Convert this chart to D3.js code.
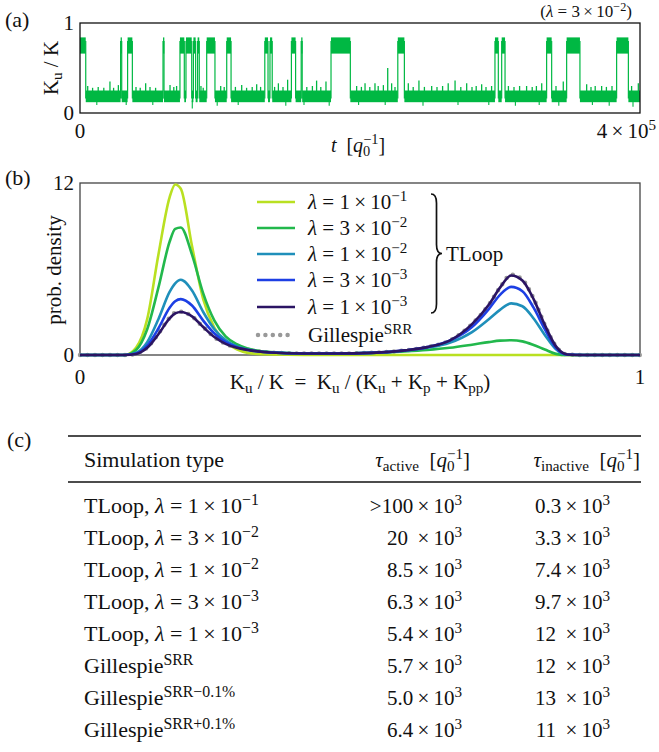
<!DOCTYPE html>
<html>
<head>
<meta charset="utf-8">
<script src="https://cdn.jsdelivr.net/npm/d3@7"></script>
<style>
  body { margin: 0; background: white; }
  svg text { font-family: "Liberation Serif", "DejaVu Serif", serif; fill: #111; white-space: pre; }
</style>
</head>
<body>
<div id="container"></div>
<script>
// ---------- panel (a): time trace, t in units of 10^3 q0^-1 ----------
const activeStart = [0, 29.0, 34.0, 59.3, 71.4, 75.7, 81.0, 84.0, 90.5, 104.8, 132.0, 135.7, 151.0, 158.0, 179.3, 227.0, 296.4, 301.2, 333.3, 347.6, 383.3];
const activeEnd   = [4.1, 29.8, 37.4, 60.0, 74.5, 79.8, 82.6, 85.2, 96.4, 107.9, 134.3, 137.3, 154.0, 158.7, 193.1, 231.7, 298.8, 303.6, 336.9, 357.1, 391.7];
const lowBand = [0.12, 0.25];
const highBand = [0.66, 0.84];
// spikes out of the inactive band (time, height)
const spikeT = [5.5, 9, 13, 17, 21.4, 24, 27.4, 40, 43, 46.9, 50, 54, 64.3, 67, 69, 86.4, 88, 100.5, 103, 111, 115.5, 119, 123, 126.2, 129,
  139, 141.7, 145, 148.3, 162, 166, 169, 172, 175.7, 197.6, 201, 203.6, 207, 210.7, 213, 216.7, 219.8, 222.6, 225, 234.5, 238, 242.1, 246, 251.2,
  255, 259, 263, 267.9, 272, 276.2, 280, 283, 286.9, 290, 294, 306, 310, 314, 319, 323, 326, 329.8, 340, 345.2, 361.9, 365, 368, 372.6, 376, 380, 394, 398.8];
const spikeV = [0.30, 0.28, 0.29, 0.28, 0.35, 0.28, 0.31, 0.29, 0.28, 0.33, 0.29, 0.28, 0.31, 0.29, 0.30, 0.30, 0.28, 0.30, 0.29, 0.29, 0.31, 0.28, 0.29, 0.32, 0.29,
  0.29, 0.33, 0.29, 0.37, 0.29, 0.30, 0.36, 0.29, 0.35, 0.30, 0.29, 0.33, 0.29, 0.33, 0.30, 0.31, 0.50, 0.33, 0.29, 0.33, 0.29, 0.36, 0.29, 0.30,
  0.29, 0.30, 0.33, 0.36, 0.29, 0.33, 0.29, 0.30, 0.32, 0.29, 0.30, 0.30, 0.29, 0.30, 0.30, 0.29, 0.30, 0.33, 0.30, 0.35, 0.32, 0.29, 0.30, 0.30, 0.29, 0.30, 0.30, 0.33];
// dips below the inactive band (time, depth)
const dipT = [12, 33, 52, 80.2, 98, 113, 147, 160, 178, 199, 218, 245, 270, 292, 311, 328, 342, 366, 378, 395];
const dipV = [0.09, 0.09, 0.09, 0.05, 0.08, 0.09, 0.08, 0.09, 0.08, 0.09, 0.09, 0.08, 0.09, 0.09, 0.08, 0.09, 0.08, 0.09, 0.08, 0.07];

// ---------- panel (b): probability densities ----------
const ku = [0, 0.08, 0.10, 0.12, 0.14, 0.16, 0.17, 0.18, 0.20, 0.22, 0.24, 0.26, 0.28, 0.30, 0.34, 0.40, 0.46, 0.52, 0.58, 0.62, 0.66, 0.70, 0.73, 0.75, 0.77, 0.79, 0.81, 0.83, 0.85, 0.87, 0.90, 1.0];
const dens1e1 = [0, 0, 0.5, 2.5, 7.0, 11.0, 11.9, 11.6, 7.6, 3.9, 1.9, 0.9, 0.4, 0.15, 0.03, 0, 0, 0, 0, 0, 0, 0, 0, 0, 0, 0, 0, 0, 0, 0, 0, 0];
const dens3e2 = [0, 0, 0.35, 1.8, 4.7, 7.9, 8.8, 8.9, 7.0, 4.3, 2.4, 1.3, 0.75, 0.45, 0.2, 0.1, 0.1, 0.15, 0.25, 0.35, 0.5, 0.72, 0.9, 1.0, 1.03, 0.95, 0.7, 0.38, 0.08, 0, 0, 0];
const dens1e2 = [0, 0, 0.15, 0.9, 2.5, 4.4, 5.0, 5.25, 4.5, 3.0, 1.8, 1.05, 0.6, 0.38, 0.18, 0.1, 0.1, 0.15, 0.3, 0.5, 0.85, 1.6, 2.5, 3.15, 3.6, 3.4, 2.55, 1.4, 0.4, 0.02, 0, 0];
const dens3e3 = [0, 0, 0.1, 0.65, 1.85, 3.3, 3.75, 3.9, 3.45, 2.4, 1.5, 0.9, 0.55, 0.35, 0.17, 0.1, 0.1, 0.15, 0.32, 0.55, 1.0, 1.95, 3.2, 4.2, 4.75, 4.45, 3.3, 1.8, 0.5, 0.03, 0, 0];
const dens1e3 = [0, 0, 0.07, 0.5, 1.45, 2.55, 2.9, 3.0, 2.7, 1.95, 1.25, 0.78, 0.5, 0.35, 0.17, 0.1, 0.1, 0.15, 0.32, 0.55, 1.0, 2.15, 3.5, 4.7, 5.55, 5.2, 3.9, 2.1, 0.6, 0.04, 0, 0];
const densGillespie = [0, 0, 0.08, 0.52, 1.5, 2.6, 2.95, 3.02, 2.7, 1.95, 1.25, 0.78, 0.5, 0.35, 0.17, 0.1, 0.1, 0.15, 0.32, 0.55, 1.0, 2.15, 3.5, 4.7, 5.6, 5.25, 3.95, 2.1, 0.6, 0.04, 0, 0];
const seriesLabels = ['$λ$ = 1 × 10^{−1}', '$λ$ = 3 × 10^{−2}', '$λ$ = 1 × 10^{−2}', '$λ$ = 3 × 10^{−3}', '$λ$ = 1 × 10^{−3}'];
const seriesColors = ['#b9e021', '#22b84c', '#1f8fba', '#1d3fe4', '#2b1463'];

// ---------- panel (c): table ----------
const simLabels = ['TLoop, $λ$ = 1 × 10^{−1}', 'TLoop, $λ$ = 3 × 10^{−2}', 'TLoop, $λ$ = 1 × 10^{−2}', 'TLoop, $λ$ = 3 × 10^{−3}', 'TLoop, $λ$ = 1 × 10^{−3}', 'Gillespie^{SRR}', 'Gillespie^{SRR−0.1%}', 'Gillespie^{SRR+0.1%}'];
const tauActive = ['>100 × 10^{3}', '20  × 10^{3}', '8.5 × 10^{3}', '6.3 × 10^{3}', '5.4 × 10^{3}', '5.7 × 10^{3}', '5.0 × 10^{3}', '6.4 × 10^{3}'];
const tauInactive = ['0.3 × 10^{3}', '3.3 × 10^{3}', '7.4 × 10^{3}', '9.7 × 10^{3}', '12  × 10^{3}', '12  × 10^{3}', '13  × 10^{3}', '11  × 10^{3}'];

const traceColor = '#00b843';

const svg = d3.select('#container').append('svg')
  .attr('width', 659).attr('height', 752);

// little markup: ^{..} superscript, _{..} subscript, $..$ italic; ' × ' gets thin spaces
function richText(g, str, attrs, fs) {
  const t = g.append('text').attr('font-size', fs);
  Object.entries(attrs).forEach(([k, v]) => t.attr(k, v));
  const tokens = str.replace(/ × /g, '\u2009×\u2009').split(/(\^\{[^}]*\}|_\{[^}]*\}|\$[^$]*\$)/).filter(s => s.length);
  let offset = 0, lastSub = null;
  tokens.forEach(tok => {
    const ts = t.append('tspan');
    let target = 0, txt = tok;
    if (tok.startsWith('^{')) {
      target = -0.38 * fs; txt = tok.slice(2, -1);
      ts.attr('font-size', 0.72 * fs);
      if (lastSub) ts.attr('dx', -lastSub.length * 0.36 * fs);
      lastSub = null;
    } else if (tok.startsWith('_{')) {
      target = 0.2 * fs; txt = tok.slice(2, -1);
      ts.attr('font-size', 0.72 * fs);
      lastSub = txt;
    } else if (tok.startsWith('$')) {
      txt = tok.slice(1, -1); ts.attr('font-style', 'italic');
      lastSub = null;
    } else {
      lastSub = null;
    }
    if (target !== offset) ts.attr('dy', target - offset);
    offset = target;
    ts.text(txt);
  });
  return t;
}

// ================= panel (a) =================
const xA = d3.scaleLinear().domain([0, 400]).range([80, 640]);
const yA = d3.scaleLinear().domain([0, 1]).range([113, 23]);
const gA = svg.append('g');

const active = activeStart.map((s, i) => ({ s, e: activeEnd[i] }));
const inactive = [];
let prev = 0;
active.forEach(a => { if (a.s > prev) inactive.push({ s: prev, e: a.s }); prev = a.e; });
if (prev < 400) inactive.push({ s: prev, e: 400 });
const isActive = t => active.some(a => t >= a.s && t <= a.e);

gA.selectAll('rect.low').data(inactive).join('rect')
  .attr('x', d => xA(d.s)).attr('width', d => Math.max(1, xA(d.e) - xA(d.s)))
  .attr('y', yA(lowBand[1])).attr('height', yA(lowBand[0]) - yA(lowBand[1]))
  .attr('fill', traceColor);
gA.selectAll('rect.high').data(active).join('rect')
  .attr('x', d => xA(d.s)).attr('width', d => Math.max(1.3, xA(d.e) - xA(d.s)))
  .attr('y', yA(highBand[1])).attr('height', yA(highBand[0]) - yA(highBand[1]))
  .attr('fill', traceColor);
// switching edges
const edges = activeStart.concat(activeEnd).filter(t => t > 0 && t < 400);
gA.selectAll('line.edge').data(edges).join('line')
  .attr('x1', d => xA(d)).attr('x2', d => xA(d))
  .attr('y1', yA(lowBand[0] + 0.04)).attr('y2', yA(highBand[1] - 0.04))
  .attr('stroke', traceColor).attr('stroke-width', 1.2);
const spikes = spikeT.map((t, i) => ({ t, v: spikeV[i] })).filter(d => !isActive(d.t));
gA.selectAll('line.spike').data(spikes).join('line')
  .attr('x1', d => xA(d.t)).attr('x2', d => xA(d.t))
  .attr('y1', yA(lowBand[1] - 0.02)).attr('y2', d => yA(d.v))
  .attr('stroke', traceColor).attr('stroke-width', 1.3);
const dips = dipT.map((t, i) => ({ t, v: dipV[i] })).filter(d => !isActive(d.t));
gA.selectAll('line.dip').data(dips).join('line')
  .attr('x1', d => xA(d.t)).attr('x2', d => xA(d.t))
  .attr('y1', yA(lowBand[0] + 0.02)).attr('y2', d => yA(d.v))
  .attr('stroke', traceColor).attr('stroke-width', 1.1);

gA.append('rect').attr('x', 80).attr('y', 23).attr('width', 560).attr('height', 90)
  .attr('fill', 'none').attr('stroke', '#111').attr('stroke-width', 1.3);

gA.append('text').attr('x', 74).attr('y', yA(1)).attr('dy', '0.33em').attr('text-anchor', 'end').attr('font-size', 21).text('1');
gA.append('text').attr('x', 74).attr('y', yA(0)).attr('dy', '0.33em').attr('text-anchor', 'end').attr('font-size', 21).text('0');
gA.append('text').attr('x', xA(0)).attr('y', 138).attr('text-anchor', 'middle').attr('font-size', 21).text('0');
richText(gA, '4 × 10^{5}', { x: 656, y: 138, 'text-anchor': 'end' }, 21);
richText(gA, '$t$  [$q$_{0}^{−1}]', { x: 358, y: 152, 'text-anchor': 'middle' }, 20);
richText(gA, '($λ$ = 3 × 10^{−2})', { x: 632, y: 17, 'text-anchor': 'end' }, 17);
richText(gA, 'K_{u} / K', { transform: 'translate(58,68) rotate(-90)', 'text-anchor': 'middle' }, 21);
gA.append('text').attr('x', 5).attr('y', 27).attr('font-size', 22).text('(a)');

// ================= panel (b) =================
const xB = d3.scaleLinear().domain([0, 1]).range([80, 640]);
const yB = d3.scaleLinear().domain([0, 12]).range([355, 183]);
const gB = svg.append('g');

const line = d3.line().x((d, i) => xB(ku[i])).y(d => yB(d)).curve(d3.curveMonotoneX);

gB.append('rect').attr('x', 80).attr('y', 183).attr('width', 560).attr('height', 172)
  .attr('fill', 'none').attr('stroke', '#444').attr('stroke-width', 1.3);

gB.append('path').attr('d', line(densGillespie)).attr('fill', 'none')
  .attr('stroke', '#999').attr('stroke-width', 4.5).attr('stroke-linecap', 'round')
  .attr('stroke-dasharray', '0 7.5');

const allSeries = [dens1e1, dens3e2, dens1e2, dens3e3, dens1e3];
gB.selectAll('path.series').data(allSeries).join('path')
  .attr('class', 'series')
  .attr('d', d => line(d)).attr('fill', 'none')
  .attr('stroke', (d, i) => seriesColors[i]).attr('stroke-width', 2.6);

// legend
const legY = [202, 228, 254, 280, 307];
seriesLabels.forEach((lab, i) => {
  gB.append('line').attr('x1', 257).attr('x2', 295).attr('y1', legY[i]).attr('y2', legY[i])
    .attr('stroke', seriesColors[i]).attr('stroke-width', 2.6);
  richText(gB, lab, { x: 308, y: legY[i] + 7 }, 21);
});
gB.append('line').attr('x1', 258).attr('x2', 295).attr('y1', 335).attr('y2', 335)
  .attr('stroke', '#999').attr('stroke-width', 4.5).attr('stroke-linecap', 'round')
  .attr('stroke-dasharray', '0 7.4');
richText(gB, 'Gillespie^{SRR}', { x: 308, y: 342 }, 21);

// brace
function bracePath(x, y0, y1, w) {
  const ym = (y0 + y1) / 2, r = 9, xm = x + w / 2;
  return `M${x},${y0} Q${xm},${y0} ${xm},${y0 + r} L${xm},${ym - r} Q${xm},${ym} ${x + w},${ym}`
    + ` Q${xm},${ym} ${xm},${ym + r} L${xm},${y1 - r} Q${xm},${y1} ${x},${y1}`;
}
gB.append('path').attr('d', bracePath(431, 194, 313, 11)).attr('fill', 'none')
  .attr('stroke', '#111').attr('stroke-width', 1.7);
gB.append('text').attr('x', 446).attr('y', 261).attr('font-size', 21).text('TLoop');

gB.append('text').attr('x', 74).attr('y', yB(12)).attr('dy', '0.33em').attr('text-anchor', 'end').attr('font-size', 21).text('12');
gB.append('text').attr('x', 74).attr('y', yB(0)).attr('dy', '0.33em').attr('text-anchor', 'end').attr('font-size', 21).text('0');
gB.append('text').attr('x', xB(0)).attr('y', 384).attr('text-anchor', 'middle').attr('font-size', 21).text('0');
gB.append('text').attr('x', xB(1)).attr('y', 384).attr('text-anchor', 'middle').attr('font-size', 21).text('1');
richText(gB, 'K_{u} / K  =  K_{u} / (K_{u} + K_{p} + K_{pp})', { x: 360, y: 389, 'text-anchor': 'middle' }, 21);
gB.append('text').attr('transform', 'translate(61,270) rotate(-90)').attr('text-anchor', 'middle')
  .attr('font-size', 21).text('prob. density');
gB.append('text').attr('x', 5).attr('y', 185).attr('font-size', 22).text('(b)');

// ================= panel (c) =================
const gC = svg.append('g');
const rowY = d3.scaleLinear().domain([0, 7]).range([513, 737]);
gC.append('text').attr('x', 7).attr('y', 447).attr('font-size', 22).text('(c)');
gC.append('line').attr('x1', 68).attr('x2', 641).attr('y1', 436).attr('y2', 436).attr('stroke', '#111').attr('stroke-width', 1.7);
gC.append('line').attr('x1', 68).attr('x2', 641).attr('y1', 482).attr('y2', 482).attr('stroke', '#111').attr('stroke-width', 1.7);
gC.append('text').attr('x', 84).attr('y', 467).attr('font-size', 22).text('Simulation type');
richText(gC, '$τ$_{active}  [$q$_{0}^{−1}]', { x: 470, y: 467, 'text-anchor': 'end' }, 21);
richText(gC, '$τ$_{inactive}  [$q$_{0}^{−1}]', { x: 640, y: 467, 'text-anchor': 'end' }, 21);

simLabels.forEach((lab, i) => {
  richText(gC, lab, { x: 84, y: rowY(i) }, 22);
  richText(gC, tauActive[i], { x: 462, y: rowY(i), 'text-anchor': 'end' }, 21);
  richText(gC, tauInactive[i], { x: 610, y: rowY(i), 'text-anchor': 'end' }, 21);
});
</script>
</body>
</html>
